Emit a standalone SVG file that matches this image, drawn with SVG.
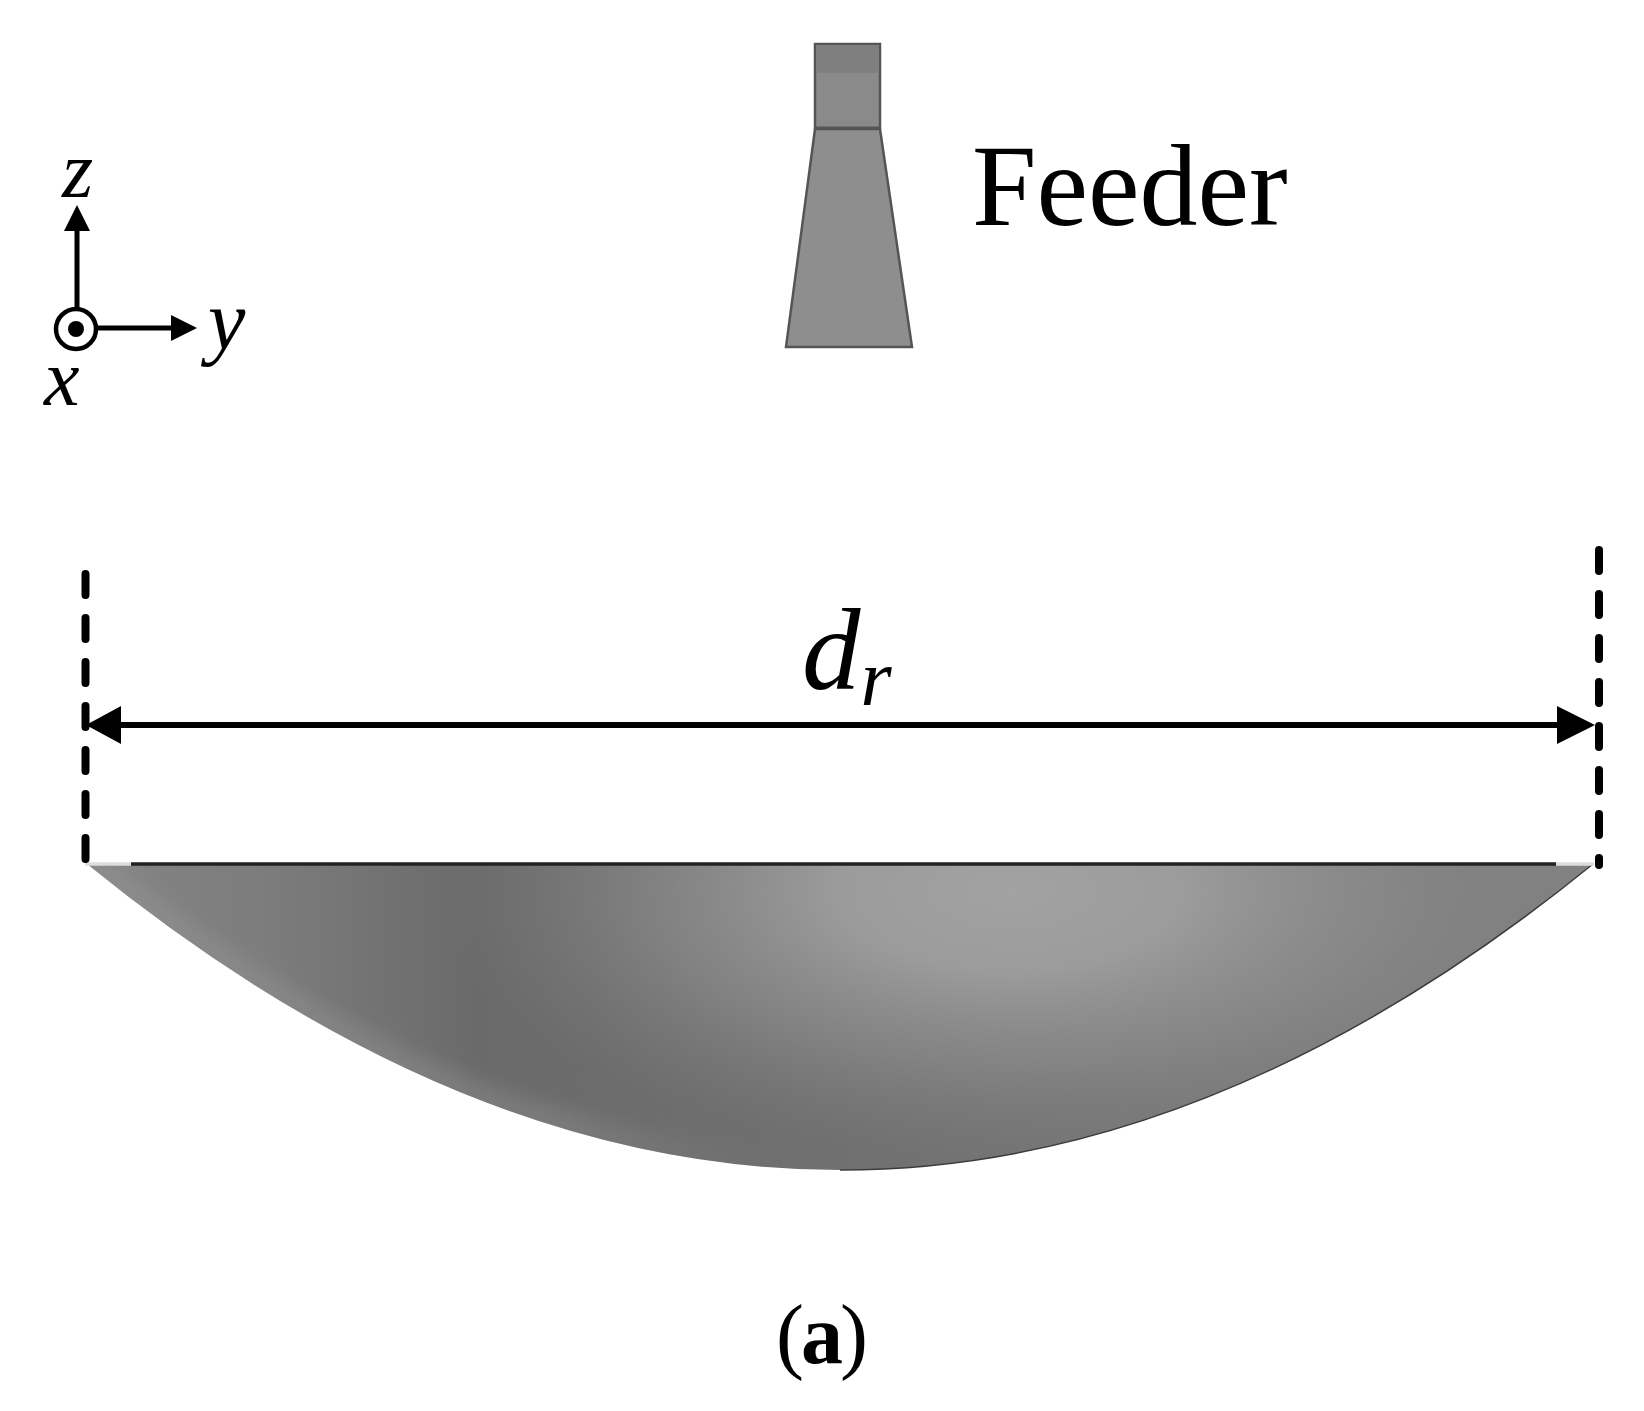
<svg xmlns="http://www.w3.org/2000/svg" width="1644" height="1411" viewBox="0 0 1644 1411">
<style>
text{font-family:"Liberation Serif","Times New Roman",serif;fill:#000}
.i{font-style:italic}
.axis{stroke:#000;stroke-width:5;fill:none}
.dash{stroke:#000;stroke-width:8;stroke-linecap:round;stroke-dasharray:21 23;fill:none}
.dim{stroke:#000;stroke-width:6;fill:none}
.edge{stroke:#555;stroke-width:2.5}
</style>
<defs>
<linearGradient id="base" gradientUnits="userSpaceOnUse" x1="85" y1="0" x2="1595" y2="0">
<stop offset="0" stop-color="#858585"/>
<stop offset="0.12" stop-color="#7c7c7c"/>
<stop offset="0.26" stop-color="#6a6a6a"/>
<stop offset="0.5" stop-color="#707070"/>
<stop offset="0.8" stop-color="#7a7a7a"/>
<stop offset="1" stop-color="#828282"/>
</linearGradient>
<radialGradient id="glow" gradientUnits="userSpaceOnUse" cx="0" cy="0" r="1" gradientTransform="translate(1010 890) scale(570 270)">
<stop offset="0" stop-color="#a2a2a2" stop-opacity="1"/>
<stop offset="0.3" stop-color="#a0a0a0" stop-opacity="0.9"/>
<stop offset="0.65" stop-color="#929292" stop-opacity="0.5"/>
<stop offset="1" stop-color="#808080" stop-opacity="0"/>
</radialGradient>
<linearGradient id="rim" gradientUnits="userSpaceOnUse" x1="87" y1="0" x2="760" y2="0">
<stop offset="0" stop-color="#969696" stop-opacity="0.45"/>
<stop offset="0.7" stop-color="#969696" stop-opacity="0.35"/>
<stop offset="1" stop-color="#969696" stop-opacity="0"/>
</linearGradient>
<filter id="soft" filterUnits="userSpaceOnUse" x="60" y="840" width="1560" height="350"><feGaussianBlur stdDeviation="9"/></filter>
<clipPath id="dishClip"><path d="M87 864Q840 1476 1593 864Z"/></clipPath>
</defs>
<rect width="1644" height="1411" fill="#fff"/>
<g id="feeder">
<rect x="815" y="44" width="65" height="84" fill="#8a8a8a" class="edge"/>
<rect x="816" y="45" width="63" height="28" fill="#7f7f7f"/>
<path d="M815 129H880L912 347H786Z" fill="#8e8e8e" class="edge"/>
<path d="M815 128H880" class="edge" stroke-width="3"/>
</g>
<text id="feeder-label" x="972" y="225" font-size="116">Feeder</text>
<g id="reflector">
<path d="M87 864Q840 1476 1593 864Z" fill="url(#base)"/>
<g clip-path="url(#dishClip)">
<rect x="80" y="860" width="1520" height="320" fill="url(#glow)"/>
<path d="M87 864Q463.500 1170 840 1170" fill="none" stroke="url(#rim)" stroke-width="36" filter="url(#soft)"/>
</g>
<path d="M840 1170Q1216.500 1170 1593 864" fill="none" stroke="#3c3c3c" stroke-width="1.500"/>
<path d="M85 864H131" stroke="#ddd" stroke-width="3.500"/>
<path d="M131 864H1556" stroke="#222" stroke-width="3.500"/>
<path d="M1556 864H1594" stroke="#ddd" stroke-width="3.500"/>
</g>
<g id="axes">
<circle cx="76" cy="329" r="20" fill="#fff" stroke="#000" stroke-width="4.500"/>
<circle cx="76" cy="329" r="8" fill="#000"/>
<path d="M77 309V230M97 328H172" class="axis"/>
<path d="M77 205L90 231H64Z"/>
<path d="M197 328L171 315V341Z"/>
<text class="i" x="62" y="197" font-size="80">z</text>
<text class="i" x="208" y="349" font-size="84">y</text>
<text class="i" x="44" y="405" font-size="80">x</text>
</g>
<g id="connectors">
<path d="M85.500 574V860" class="dash"/>
<path d="M1599 550V865" class="dash"/>
<path d="M118 725H1560" class="dim"/>
<path d="M86 725L121 706V744Z"/>
<path d="M1595 725L1557 706V744Z"/>
</g>
<text id="dim-label" class="i" x="802" y="689" font-size="117">d<tspan font-size="80" dy="16">r</tspan></text>
<text id="caption" x="776" y="1363" font-size="84" letter-spacing="-3">(<tspan font-weight="bold">a</tspan>)</text>
</svg>
